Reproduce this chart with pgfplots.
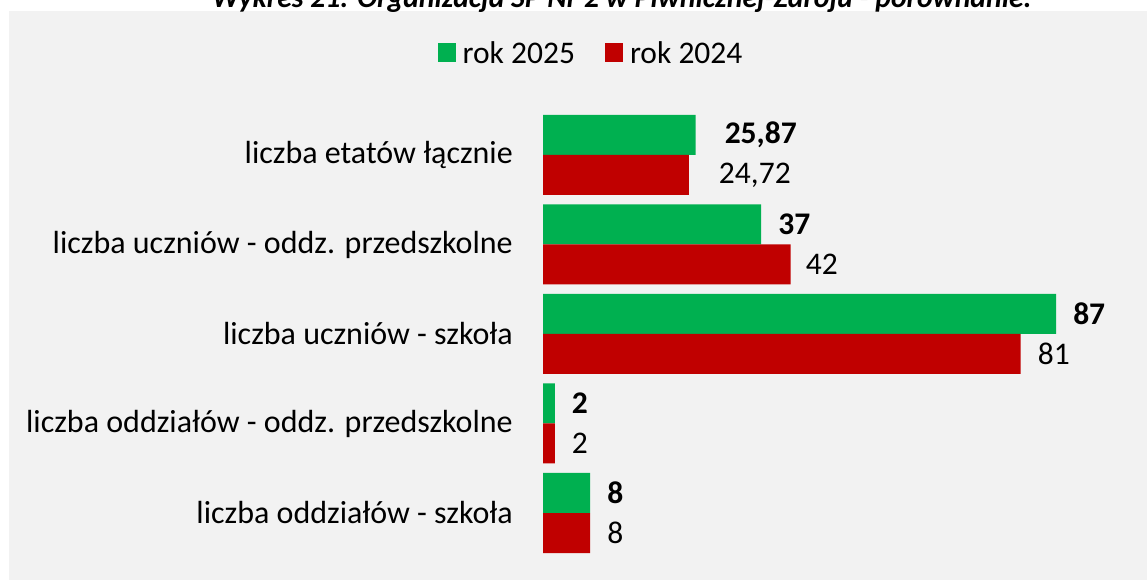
\documentclass[border=0pt]{standalone}
\usepackage{pgfplots}
\usepackage{pgfplotstable}
\pgfplotsset{compat=1.18}
\usepackage{fontspec}
\setmainfont{Carlito}
\definecolor{g25}{HTML}{00B050}
\definecolor{r24}{HTML}{C00000}
\definecolor{panel}{HTML}{F2F2F2}
\newcommand\fs{\fontsize{31.5bp}{37bp}\selectfont}
\newcommand\fl{\fontsize{32bp}{38bp}\selectfont}

\pgfplotstableread{
y x lab dx
0 25.87 25,87 29
1 37 37 17
2 87 87 17
3 2 2 17
4 8 8 17
}\greendata
\pgfplotstableread{
y x lab dx
0 24.72 24,72 30
1 42 42 15
2 81 81 17
3 2 2 17
4 8 8 17
}\reddata

\begin{document}
\begin{tikzpicture}[x=1bp,y=1bp]
\fill[white] (0,0) rectangle (1147,580);
\fill[panel] (9,0) rectangle (1147,569);
\node[font=\fontsize{29.7bp}{35bp}\selectfont\bfseries\itshape, anchor=base] at (622,572) {Wykres 21. Organizacja SP Nr 2 w Piwnicznej-Zdroju - porównanie.};
\begin{axis}[
  at={(543bp,22.25bp)}, anchor=south west,
  scale only axis, width=589.7bp, height=447.5bp,
  xbar, bar width=40bp,
  xmin=0, xmax=100, ymin=-0.5, ymax=4.5,
  y dir=reverse,
  axis line style={draw=none},
  xtick=\empty,
  ytick={0,1,2,3,4},
  yticklabels={liczba etatów łącznie, liczba uczniów - oddz. przedszkolne, liczba uczniów - szkoła, liczba oddziałów - oddz. przedszkolne, liczba oddziałów - szkoła},
  major tick length=0pt,
  yticklabel style={font=\fl, inner sep=0pt, xshift=-30bp, anchor=east},
  point meta=explicit symbolic,
  visualization depends on={\thisrow{dx} \as \dx},
  nodes near coords,
  every node near coord/.append style={font=\fs, inner sep=0pt, anchor=west, xshift=\dx bp, text=black},
  legend style={at={(0.0814,1.128)}, anchor=center, draw=none, fill=none, font=\fs, legend columns=2,
    /tikz/every odd column/.append style={column sep=5bp},
    /tikz/every even column/.append style={column sep=28bp}},
  legend image code/.code={\fill[#1] (0bp,-9.5bp) rectangle (18bp,9.5bp);},
]
\addplot+[fill=g25, draw=none, bar shift=20bp, every node near coord/.append style={font=\fs\bfseries}] table[x=x, y=y, meta=lab] \greendata;
\addplot+[fill=r24, draw=none, bar shift=-20bp] table[x=x, y=y, meta=lab] \reddata;
\legend{rok 2025, rok 2024}
\end{axis}
\pgfresetboundingbox
\useasboundingbox (0,0) rectangle (1147,580);
\end{tikzpicture}
\end{document}
